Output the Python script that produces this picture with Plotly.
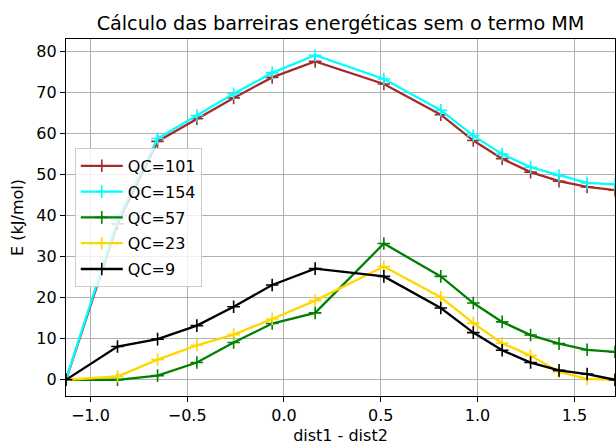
import plotly.graph_objects as go

dist = [-1.126, -0.860, -0.653, -0.450, -0.260, -0.061, 0.161, 0.516,
        0.810, 0.978, 1.127, 1.274, 1.421, 1.566, 1.710]

qc101 = [0, 38.0, 58.1, 63.6, 68.7, 73.7, 77.6, 72.1, 64.6, 58.3, 53.9, 50.6, 48.4, 47.0, 46.2]
qc154 = [0, 39.0, 58.8, 64.4, 69.7, 74.8, 79.1, 73.3, 65.7, 59.5, 55.0, 51.8, 49.8, 48.0, 47.6]
qc57 = [0, 0.0, 1.0, 4.2, 9.1, 13.7, 16.3, 33.2, 25.2, 18.7, 14.1, 10.9, 8.8, 7.3, 6.8]
qc23 = [0, 0.8, 4.9, 8.4, 11.0, 14.8, 19.3, 27.6, 20.1, 13.8, 8.9, 5.9, 1.9, 0.2, 0]
qc9 = [0, 8.1, 9.9, 13.2, 17.8, 23.1, 27.1, 25.2, 17.5, 11.5, 7.2, 4.2, 2.3, 1.4, 0]

series = [("QC=101", qc101, "#a52a2a"),
          ("QC=154", qc154, "#00ffff"),
          ("QC=57", qc57, "#008000"),
          ("QC=23", qc23, "#ffd700"),
          ("QC=9", qc9, "#000000")]

xticks = [-1.0, -0.5, 0.0, 0.5, 1.0, 1.5]
yticks = [0, 10, 20, 30, 40, 50, 60, 70, 80]

FONT = "DejaVu Sans"
FS = 16
fig = go.Figure()
for i, (name, ys, col) in enumerate(series):
    fig.add_trace(go.Scatter(
        x=dist, y=ys, name=name, mode="lines+markers",
        legendgroup=f"g{i}",
        line=dict(color=col, width=2.3),
        marker=dict(symbol="cross-thin", size=9, color=col,
                    line=dict(color=col, width=1.6)),
    ))

allmax = max(max(s[1]) for s in series)
allmin = min(min(s[1]) for s in series)
pad = 0.05 * (allmax - allmin)

fig.update_layout(
    width=616, height=445,
    margin=dict(l=66, r=1, t=39, b=49),
    paper_bgcolor="white", plot_bgcolor="white",
    font=dict(family=FONT, size=FS, color="black"),
    title=dict(text="Cálculo das barreiras energéticas sem o termo MM",
               font=dict(size=19.2, family=FONT, color="black"),
               x=0.5, xref="paper", y=1 - 23 / 445, yref="container",
               xanchor="center", yanchor="middle"),
    showlegend=True,
    legend=dict(x=0.016, y=0.695, xanchor="left", yanchor="top",
                bgcolor="rgba(255,255,255,0.8)", bordercolor="#cccccc",
                borderwidth=1, font=dict(size=FS, family=FONT),
                traceorder="grouped", tracegroupgap=2, itemwidth=42),
)
fig.update_xaxes(
    range=[min(dist), max(dist)], tickvals=xticks, tickformat=".1f",
    showline=True, linecolor="black", linewidth=1.2, mirror=True,
    ticks="outside", ticklen=5, tickcolor="black", tickwidth=1.2,
    showgrid=True, gridcolor="#b0b0b0", gridwidth=1.2, zeroline=False,
    title=dict(text="dist1 - dist2", standoff=7, font=dict(size=FS)),
)
fig.update_yaxes(
    range=[allmin - pad, allmax + pad], tickvals=yticks,
    showline=True, linecolor="black", linewidth=1.2, mirror=True,
    ticks="outside", ticklen=5, tickcolor="black", tickwidth=1.2,
    showgrid=True, gridcolor="#b0b0b0", gridwidth=1.2, zeroline=False,
    title=dict(text="E (kJ/mol)", standoff=8, font=dict(size=FS)),
)
fig.write_html("out.html")
